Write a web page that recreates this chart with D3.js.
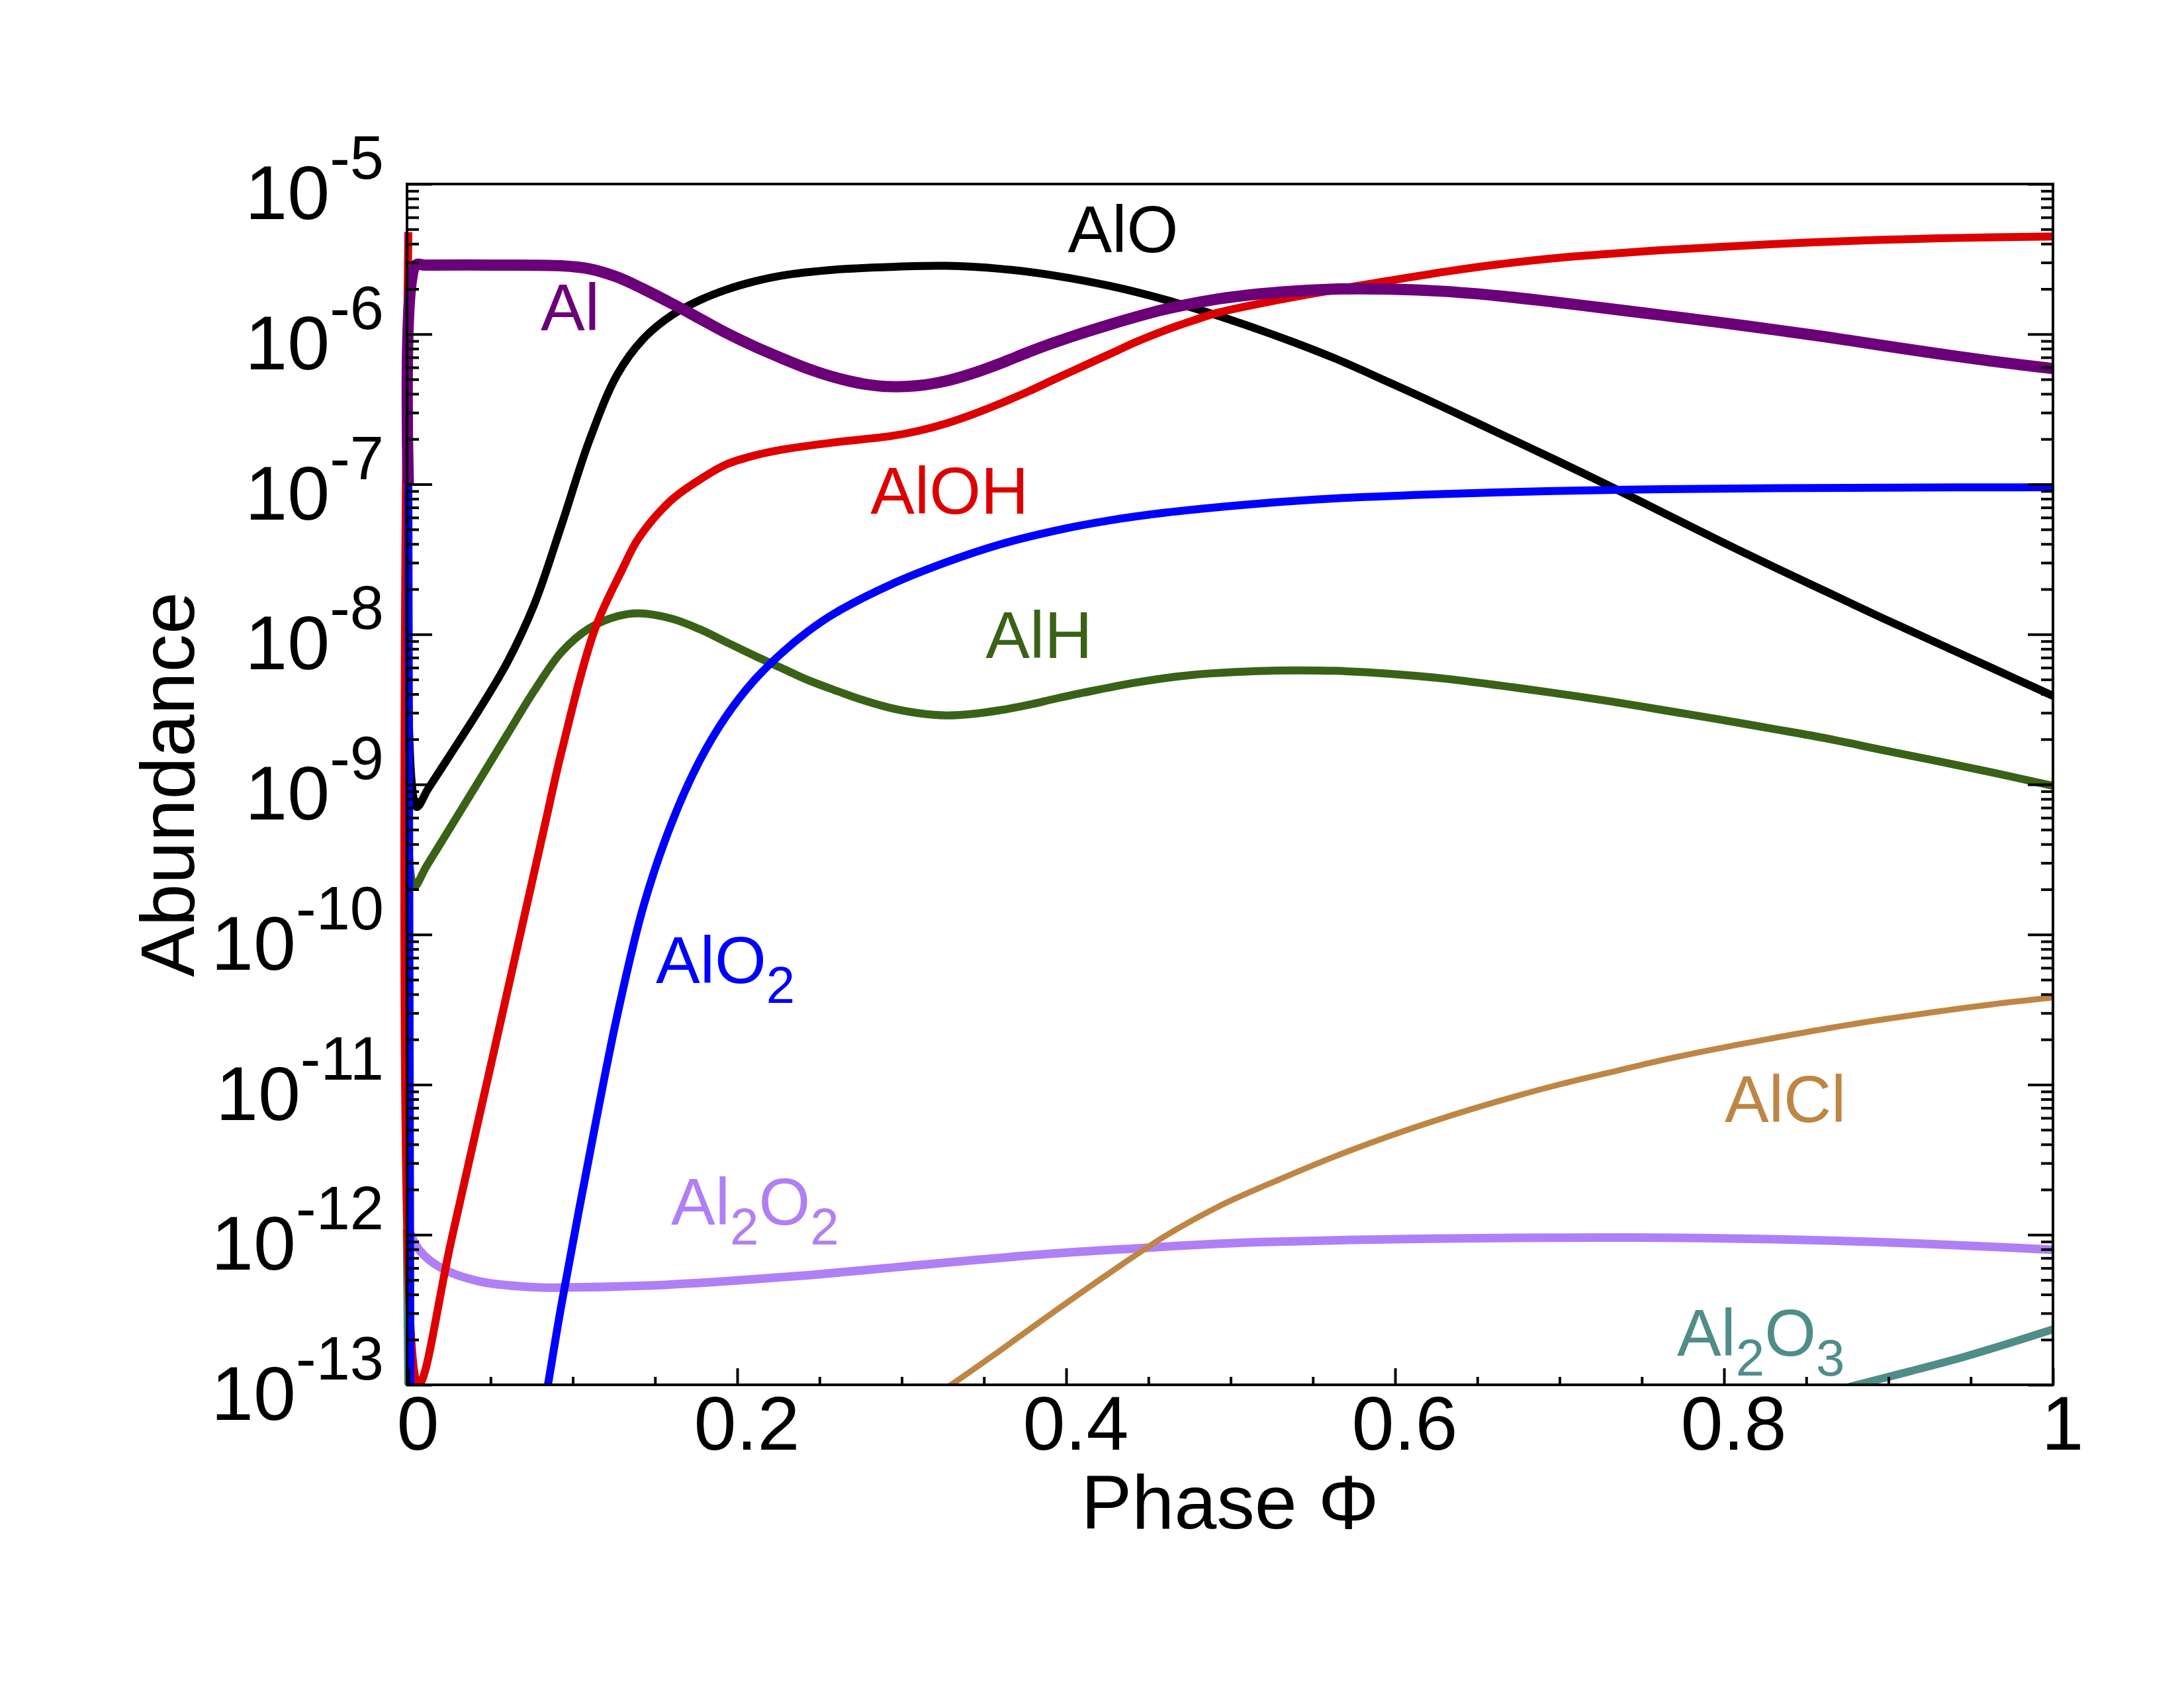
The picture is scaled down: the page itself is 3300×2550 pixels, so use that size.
<!DOCTYPE html>
<html>
<head>
<meta charset="utf-8">
<script src="https://cdn.jsdelivr.net/npm/d3@7"></script>
<style>
  body { margin: 0; background: #fff; }
  svg { display: block; }
</style>
</head>
<body>
<script>
// [phase, log10(abundance)]; null = curve below 1e-13 (gap)
const alData = [
    [0, -7.0], [0.0045, -5.54], [0.01, -5.54], [0.05, -5.54], [0.093, -5.545], [0.11, -5.565],
    [0.127, -5.62], [0.143, -5.70], [0.16, -5.795], [0.177, -5.895], [0.193, -5.99], [0.21, -6.08],
    [0.227, -6.16], [0.243, -6.23], [0.26, -6.29], [0.277, -6.332], [0.293, -6.35], [0.31, -6.343],
    [0.327, -6.312], [0.343, -6.262], [0.36, -6.195], [0.377, -6.12], [0.393, -6.055], [0.427, -5.935],
    [0.46, -5.835], [0.493, -5.765], [0.53, -5.72], [0.563, -5.70], [0.596, -5.70], [0.63, -5.715],
    [0.663, -5.745], [0.696, -5.785], [0.73, -5.83], [0.763, -5.875], [0.796, -5.92], [0.83, -5.97],
    [0.863, -6.02], [0.896, -6.075], [0.93, -6.13], [0.963, -6.18], [1.0, -6.23]
];
const alOData = [
    [0, -7.0], [0.005, -9.15], [0.012, -9.03], [0.0265, -8.785], [0.0432, -8.50], [0.06, -8.19],
    [0.0766, -7.80], [0.0932, -7.27], [0.11, -6.71], [0.127, -6.27], [0.143, -6.03], [0.16, -5.875],
    [0.177, -5.775], [0.193, -5.705], [0.21, -5.65], [0.227, -5.61], [0.26, -5.57], [0.293, -5.552],
    [0.327, -5.545], [0.36, -5.565], [0.393, -5.61], [0.427, -5.68], [0.46, -5.77], [0.493, -5.88],
    [0.53, -6.02], [0.563, -6.16], [0.596, -6.32], [0.63, -6.49], [0.663, -6.66], [0.696, -6.83],
    [0.73, -7.01], [0.763, -7.19], [0.796, -7.37], [0.83, -7.55], [0.863, -7.72], [0.896, -7.89],
    [0.93, -8.06], [0.963, -8.225], [1.0, -8.41]
];
const alOHData = [
    [0, -5.32], [0.006, -13.0], [0.0265, -12.02], [0.0826, -9.29], [0.0932, -8.78], [0.1133, -7.97],
    [0.13, -7.57], [0.14, -7.36], [0.16, -7.105], [0.18, -6.95], [0.193, -6.87], [0.21, -6.81],
    [0.227, -6.77], [0.26, -6.72], [0.293, -6.68], [0.31, -6.645], [0.327, -6.595], [0.343, -6.535],
    [0.36, -6.462], [0.377, -6.382], [0.393, -6.30], [0.41, -6.215], [0.427, -6.13], [0.443, -6.05],
    [0.46, -5.975], [0.477, -5.91], [0.493, -5.855], [0.53, -5.77], [0.563, -5.705], [0.596, -5.645],
    [0.63, -5.585], [0.663, -5.535], [0.696, -5.495], [0.73, -5.465], [0.763, -5.44], [0.796, -5.42],
    [0.83, -5.40], [0.863, -5.385], [0.896, -5.372], [0.93, -5.362], [0.963, -5.355], [1.0, -5.35]
];
const alO2Data = [
    [0, -7.0], [0.0015, -14.0], [0.04, null], [0.078, -13.45], [0.0849, -13.0], [0.0932, -12.46],
    [0.1098, -11.49], [0.1266, -10.56], [0.143, -9.81], [0.16, -9.26], [0.177, -8.845], [0.193, -8.55],
    [0.21, -8.31], [0.227, -8.125], [0.243, -7.98], [0.26, -7.855], [0.293, -7.67], [0.327, -7.52],
    [0.36, -7.40], [0.393, -7.31], [0.427, -7.24], [0.46, -7.19], [0.516, -7.13], [0.563, -7.095],
    [0.63, -7.065], [0.696, -7.045], [0.763, -7.033], [0.83, -7.027], [0.896, -7.023], [1.0, -7.02]
];
const alHData = [
    [-0.001, -8.46], [0.0035, -9.68], [0.011, -9.545], [0.0265, -9.27], [0.043, -8.975], [0.06, -8.67],
    [0.0766, -8.375], [0.093, -8.12], [0.11, -7.96], [0.127, -7.88], [0.14, -7.86], [0.16, -7.895],
    [0.177, -7.965], [0.193, -8.05], [0.21, -8.14], [0.227, -8.225], [0.243, -8.305], [0.26, -8.375],
    [0.277, -8.44], [0.293, -8.49], [0.31, -8.525], [0.327, -8.54], [0.343, -8.53], [0.36, -8.505],
    [0.377, -8.47], [0.393, -8.43], [0.41, -8.39], [0.443, -8.32], [0.477, -8.27], [0.516, -8.245],
    [0.54, -8.24], [0.563, -8.243], [0.596, -8.262], [0.63, -8.295], [0.663, -8.34], [0.696, -8.39],
    [0.73, -8.445], [0.763, -8.505], [0.796, -8.565], [0.83, -8.63], [0.863, -8.695], [0.896, -8.77],
    [0.93, -8.845], [0.963, -8.92], [1.0, -9.01]
];
const al2O2Data = [
    [-0.001, -11.93], [0.0065, -12.10], [0.0198, -12.22], [0.043, -12.31], [0.0766, -12.35],
    [0.093, -12.352], [0.143, -12.34], [0.193, -12.31], [0.243, -12.27], [0.293, -12.22],
    [0.343, -12.17], [0.393, -12.125], [0.444, -12.09], [0.48, -12.067], [0.516, -12.05],
    [0.563, -12.037], [0.63, -12.025], [0.696, -12.02], [0.763, -12.02], [0.83, -12.03],
    [0.896, -12.05], [0.963, -12.08], [1.0, -12.10]
];
const alClData = [
    [-0.001, -10.64], [0.0008, -14.0], [0.1, null], [0.30, -13.22], [0.33, -13.0], [0.36, -12.77],
    [0.393, -12.51], [0.427, -12.25], [0.46, -12.01], [0.493, -11.81], [0.53, -11.63], [0.563, -11.48],
    [0.596, -11.345], [0.63, -11.22], [0.663, -11.11], [0.696, -11.01], [0.73, -10.92], [0.763, -10.835],
    [0.796, -10.76], [0.83, -10.69], [0.863, -10.625], [0.896, -10.567], [0.93, -10.513], [0.963, -10.465],
    [1.0, -10.42]
];
const al2O3Data = [
    [-0.001, -11.96], [0.0008, -14.0], [0.4, null], [0.86, -13.06], [0.881, -13.0], [0.913, -12.91],
    [0.947, -12.81], [0.98, -12.70], [1.0, -12.63]
];

// series labels: text ("_2" = subscript), placed at [phase, abundance]
const labels = [
    {text: "AlO", key: "AlO", at: [0.401, 3.52e-6]},
    {text: "Al", key: "Al", at: [0.0805, 1.06e-6]},
    {text: "AlOH", key: "AlOH", at: [0.281, 6.37e-8]},
    {text: "AlH", key: "AlH", at: [0.351, 6.95e-9]},
    {text: "AlO_2", key: "AlO2", at: [0.1505, 4.75e-11]},
    {text: "Al_2O_2", key: "Al2O2", at: [0.1598, 1.17e-12]},
    {text: "AlCl", key: "AlCl", at: [0.8004, 5.64e-12]},
    {text: "Al_2O_3", key: "Al2O3", at: [0.7714, 1.56e-13]}
];

// drawing order (last on top)
const series = [
    {key: "Al2O2", data: al2O2Data},
    {key: "AlCl", data: alClData},
    {key: "Al2O3", data: al2O3Data},
    {key: "AlH", data: alHData},
    {key: "AlO", data: alOData},
    {key: "AlOH", data: alOHData},
    {key: "AlO2", data: alO2Data},
    {key: "Al", data: alData}
];

const style = {
    Al:    {color: "#6c0079", width: 17},
    AlO:   {color: "#000000", width: 12},
    AlOH:  {color: "#dd0000", width: 12},
    AlO2:  {color: "#0000ff", width: 12},
    AlH:   {color: "#3a6217", width: 12},
    Al2O2: {color: "#b07ff6", width: 13},
    AlCl:  {color: "#be8645", width: 9},
    Al2O3: {color: "#4f8d89", width: 12}
};

let width = 3300;
let height = 2550;
let marginTop = 278;
let marginRight = 198;
let marginBottom = 458;
let marginLeft = 615;
const font = "'Liberation Sans', Arial, Helvetica, sans-serif";

let x = d3.scaleLinear()
    .domain([-0.0008, 1])
    .range([marginLeft, width - marginRight]);

let y = d3.scaleLog()
    .domain([1e-13, 1e-5])
    .range([height - marginBottom, marginTop]);

let svg = d3.select("body").append("svg")
    .attr("width", width)
    .attr("height", height)
    .attr("viewBox", [0, 0, width, height])
    .style("background", "#fff");

svg.append("defs").append("clipPath")
    .attr("id", "plot-clip")
    .append("rect")
    .attr("x", marginLeft - 25)
    .attr("y", marginTop)
    .attr("width", width - marginRight - marginLeft + 25)
    .attr("height", height - marginBottom - marginTop);

// curves
let line = d3.line()
    .defined(d => d[1] != null)
    .x(d => x(d[0]))
    .y(d => y(Math.pow(10, d[1])))
    .curve(d3.curveCatmullRom.alpha(0.5));

svg.append("g")
    .attr("clip-path", "url(#plot-clip)")
    .selectAll("path")
    .data(series)
    .join("path")
    .attr("fill", "none")
    .attr("stroke", d => style[d.key].color)
    .attr("stroke-width", d => style[d.key].width)
    .attr("stroke-linejoin", "round")
    .attr("d", d => line(d.data));

// series labels
svg.append("g")
    .attr("font-family", font)
    .attr("font-size", 100)
    .selectAll("text")
    .data(labels)
    .join("text")
    .attr("x", d => x(d.at[0]))
    .attr("y", d => y(d.at[1]))
    .attr("fill", d => style[d.key].color)
    .each(function(d) {
        let t = d3.select(this);
        let back = 0;
        d.text.split(/(_\d)/).filter(s => s).forEach(part => {
            if (part[0] === "_") {
                t.append("tspan").attr("dy", 30).attr("font-size", 78).text(part.slice(1));
                back = -30;
            } else {
                let s = t.append("tspan").text(part);
                if (back) s.attr("dy", back);
                back = 0;
            }
        });
    });

// ticks
const majorX = d3.range(0, 6).map(i => i / 5);
const minorX = d3.range(0, 21).filter(i => i % 4 !== 0).map(i => i / 20);
const majorY = d3.range(-13, -4).map(e => Math.pow(10, e));
const minorY = d3.range(-13, -5).flatMap(e => d3.range(2, 10).map(k => k * Math.pow(10, e)));

svg.append("g")
    .attr("transform", `translate(0,${height - marginBottom})`)
    .call(d3.axisBottom(x).tickValues(minorX).tickSizeInner(-12).tickSizeOuter(0).tickFormat(""))
    .call(g => g.select(".domain").remove())
    .call(g => g.selectAll(".tick line").attr("stroke-width", 4));

svg.append("g")
    .attr("transform", `translate(0,${height - marginBottom})`)
    .call(d3.axisBottom(x).tickValues(majorX).tickSizeInner(-25).tickSizeOuter(0).tickPadding(16)
        .tickFormat(d => String(+d.toFixed(1))))
    .call(g => g.select(".domain").remove())
    .call(g => g.selectAll(".tick line").attr("stroke-width", 4))
    .call(g => g.selectAll(".tick text")
        .attr("dx", 14)
        .attr("fill", "#000")
        .style("font-size", "115px")
        .style("font-family", font));

[[d3.axisLeft, marginLeft], [d3.axisRight, width - marginRight]].forEach(([axis, pos]) => {
    svg.append("g")
        .attr("transform", `translate(${pos},0)`)
        .call(axis(y).tickValues(minorY).tickSizeInner(-18).tickSizeOuter(0).tickFormat(""))
        .call(g => g.select(".domain").remove())
        .call(g => g.selectAll(".tick line").attr("stroke-width", 4));
    svg.append("g")
        .attr("transform", `translate(${pos},0)`)
        .call(axis(y).tickValues(majorY).tickSizeInner(-38).tickSizeOuter(0).tickFormat(""))
        .call(g => g.select(".domain").remove())
        .call(g => g.selectAll(".tick line").attr("stroke-width", 4));
});

// y tick labels as 10^n
svg.append("g")
    .attr("font-family", font)
    .attr("font-size", 115)
    .attr("text-anchor", "end")
    .selectAll("text")
    .data(majorY)
    .join("text")
    .attr("x", marginLeft - 35)
    .attr("y", d => y(d) + 53)
    .each(function(d) {
        let t = d3.select(this);
        t.append("tspan").text("10");
        t.append("tspan").attr("dy", -61).attr("font-size", 92).text(Math.round(Math.log10(d)));
    });

// frame
svg.append("rect")
    .attr("x", marginLeft)
    .attr("y", marginTop)
    .attr("width", width - marginLeft - marginRight)
    .attr("height", height - marginTop - marginBottom)
    .attr("fill", "none")
    .attr("stroke", "#000")
    .attr("stroke-width", 4);

// axis titles
svg.append("text")
    .attr("x", (marginLeft + width - marginRight) / 2)
    .attr("y", 2309)
    .attr("text-anchor", "middle")
    .attr("font-family", font)
    .attr("font-size", 115)
    .text("Phase \u03A6");

svg.append("text")
    .attr("transform", `translate(293,${(marginTop + height - marginBottom) / 2}) rotate(-90)`)
    .attr("text-anchor", "middle")
    .attr("font-family", font)
    .attr("font-size", 115)
    .text("Abundance");
</script>
</body>
</html>
